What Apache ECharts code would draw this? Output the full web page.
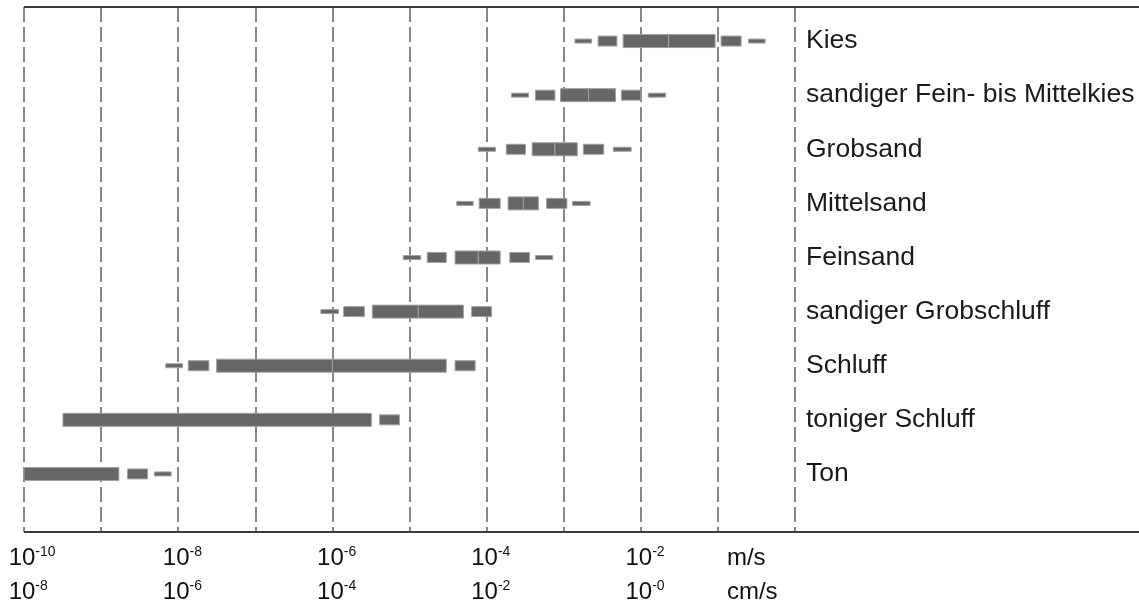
<!DOCTYPE html>
<html>
<head>
<meta charset="utf-8">
<script src="https://cdn.jsdelivr.net/npm/echarts@6/dist/echarts.min.js"></script>
<style>
  html, body { margin: 0; padding: 0; background: #fff; }
  #chart { width: 1139px; height: 601px; }
</style>
</head>
<body>
<div id="chart"></div>
<script>
// soil types, top to bottom
const categories = [
  'Kies',
  'sandiger Fein- bis Mittelkies',
  'Grobsand',
  'Mittelsand',
  'Feinsand',
  'sandiger Grobschluff',
  'Schluff',
  'toniger Schluff',
  'Ton'
];

// permeability ranges in m/s: [from, to, kind]
const kies = [[1.4e-3, 2.3e-3, 'thin'], [2.8e-3, 4.9e-3, 'mid'], [5.9e-3, 2.3e-2, 'thick'], [2.3e-2, 9.2e-2, 'thick'], [0.11, 0.2, 'mid'], [0.25, 0.41, 'thin']];
const feinMittelkies = [[2.1e-4, 3.5e-4, 'thin'], [4.3e-4, 7.7e-4, 'mid'], [9.1e-4, 2.1e-3, 'thick'], [2.1e-3, 4.7e-3, 'thick'], [5.6e-3, 1.0e-2, 'mid'], [1.25e-2, 2.1e-2, 'thin']];
const grobsand = [[7.8e-5, 1.3e-4, 'thin'], [1.8e-4, 3.2e-4, 'mid'], [3.9e-4, 7.7e-4, 'thick'], [7.7e-4, 1.5e-3, 'thick'], [1.8e-3, 3.3e-3, 'mid'], [4.4e-3, 7.5e-3, 'thin']];
const mittelsand = [[4.1e-5, 6.7e-5, 'thin'], [8.0e-5, 1.5e-4, 'mid'], [1.9e-4, 3.0e-4, 'thick'], [3.0e-4, 4.7e-4, 'thick'], [6.0e-4, 1.1e-3, 'mid'], [1.3e-3, 2.2e-3, 'thin']];
const feinsand = [[8.3e-6, 1.4e-5, 'thin'], [1.7e-5, 3.0e-5, 'mid'], [3.9e-5, 7.8e-5, 'thick'], [7.8e-5, 1.5e-4, 'thick'], [2.0e-4, 3.6e-4, 'mid'], [4.3e-4, 7.2e-4, 'thin']];
const grobschluff = [[7.1e-7, 1.2e-6, 'thin'], [1.4e-6, 2.6e-6, 'mid'], [3.3e-6, 1.3e-5, 'thick'], [1.3e-5, 5.0e-5, 'thick'], [6.4e-5, 1.16e-4, 'mid']];
const schluff = [[6.9e-9, 1.14e-8, 'thin'], [1.35e-8, 2.5e-8, 'mid'], [3.15e-8, 1.0e-6, 'thick'], [1.0e-6, 3.0e-5, 'thick'], [3.9e-5, 7.1e-5, 'mid']];
const tonigerSchluff = [[3.2e-10, 3.2e-6, 'thick'], [4.1e-6, 7.4e-6, 'mid']];
const ton = [[1.0e-10, 1.7e-9, 'thick'], [2.2e-9, 4.0e-9, 'mid'], [4.9e-9, 8.1e-9, 'thin']];

const rows = [kies, feinMittelkies, grobsand, mittelsand, feinsand, grobschluff, schluff, tonigerSchluff, ton];

// tick labels (exponents) under the decades, m/s and cm/s
const msExp = { '-10': '-10', '-8': '-8', '-6': '-6', '-4': '-4', '-2': '-2' };
const cmsExp = { '-10': '-8', '-8': '-6', '-6': '-4', '-4': '-2', '-2': '-0' };
const units = ['m/s', 'cm/s'];

const barHeight = { thick: 13, mid: 10, thin: 4 };

const data = [];
rows.forEach((segs, i) => {
  segs.forEach(s => data.push([s[0], s[1], categories[i], s[2]]));
});

const chart = echarts.init(document.getElementById('chart'));

const gridLeft = 24, gridRight = 344, gridTop = 7, gridBottom = 69;
const frameColor = '#3c3c3c';
const font = 'Liberation Sans';

chart.setOption({
  animation: false,
  grid: [
    { left: gridLeft, right: gridRight, top: gridTop, bottom: gridBottom, outerBoundsMode: 'none', containLabel: false },
    { left: gridLeft, right: gridRight, top: 14, bottom: 100, outerBoundsMode: 'none', containLabel: false }
  ],
  xAxis: [
    {
      type: 'log',
      gridIndex: 0,
      logBase: 10,
      min: 1e-10,
      max: 1,
      interval: 1,
      axisLine: { show: false },
      axisTick: { show: false },
      splitLine: {
        show: true,
        lineStyle: { color: '#888', width: 2, type: [15, 5] }
      },
      axisLabel: {
        margin: 9,
        showMinLabel: true,
        showMaxLabel: true,
        formatter: function (v) {
          const e = String(Math.round(Math.log10(v)));
          if (msExp[e] !== undefined) {
            return '{g| }{b|10}{s|' + msExp[e] + '}\n{g| }{b|10}{s|' + cmsExp[e] + '}';
          }
          if (e === '-1') {
            return '{g2| }{u|' + units[0] + '}\n{g2| }{u|' + units[1] + '}';
          }
          return '';
        },
        rich: {
          g: { width: 18, fontSize: 24, lineHeight: 34, align: 'left' },
          b: { fontSize: 24, lineHeight: 34, color: '#111', fontFamily: font, align: 'left' },
          s: { width: 22, fontSize: 14, lineHeight: 16, verticalAlign: 'top', padding: [4, 0, 0, 0], color: '#111', fontFamily: font, align: 'left' },
          g2: { width: 73, fontSize: 24, lineHeight: 34, align: 'left' },
          u: { width: 55, fontSize: 24, lineHeight: 34, color: '#111', fontFamily: font, align: 'left' }
        }
      }
    },
    {
      type: 'log',
      gridIndex: 1,
      logBase: 10,
      min: 1e-10,
      max: 1,
      show: false
    }
  ],
  yAxis: [
    {
      type: 'value',
      gridIndex: 0,
      show: false
    },
    {
      type: 'category',
      gridIndex: 1,
      data: categories,
      inverse: true,
      position: 'right',
      axisLine: { show: false },
      axisTick: { show: false },
      splitLine: { show: false },
      axisLabel: {
        margin: 11,
        fontSize: 26.5,
        color: '#1a1a1a',
        fontFamily: font,
        padding: [3, 0, 0, 0]
      }
    }
  ],
  graphic: [
    { type: 'line', shape: { x1: gridLeft, y1: gridTop, x2: 1139, y2: gridTop }, style: { stroke: frameColor, lineWidth: 2 }, z: 10 },
    { type: 'line', shape: { x1: gridLeft, y1: 601 - gridBottom, x2: 1139, y2: 601 - gridBottom }, style: { stroke: frameColor, lineWidth: 2 }, z: 10 }
  ],
  series: [
    {
      type: 'custom',
      xAxisIndex: 1,
      yAxisIndex: 1,
      encode: { x: [0, 1], y: 2 },
      data: data,
      renderItem: function (params, api) {
        const a = api.coord([api.value(0), api.value(2)]);
        const b = api.coord([api.value(1), api.value(2)]);
        const h = barHeight[data[params.dataIndex][3]];
        return {
          type: 'rect',
          shape: { x: a[0], y: a[1] - h / 2, width: b[0] - a[0], height: h },
          style: { fill: '#666', stroke: '#a0a0a0', lineWidth: 1 }
        };
      }
    }
  ]
});
</script>
</body>
</html>
